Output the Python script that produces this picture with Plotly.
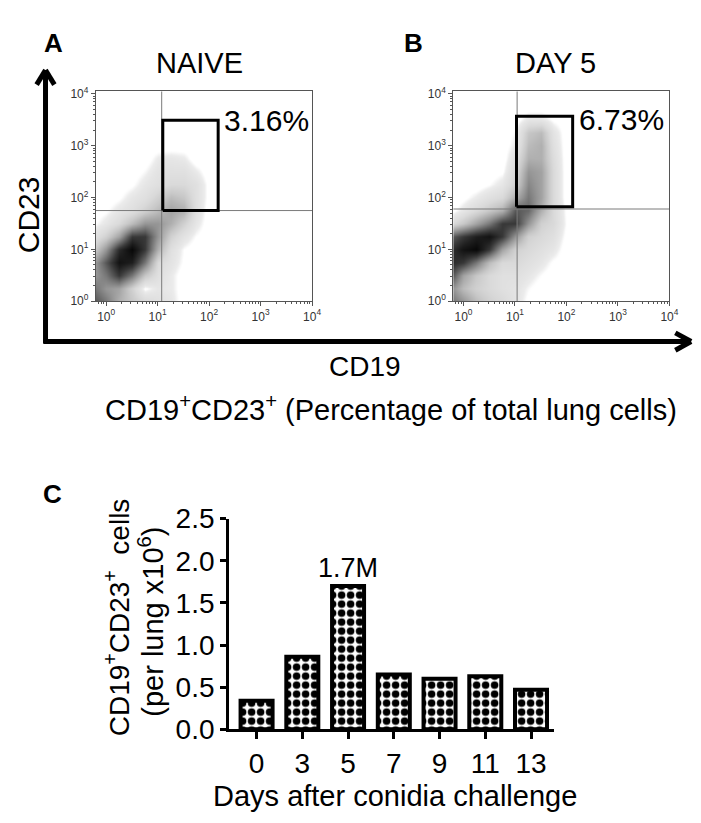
import plotly.graph_objects as go

W, H = 701, 823
FONT = "Arial, Liberation Sans, sans-serif"

# ---------------- Panel C data ----------------
days = ["0", "3", "5", "7", "9", "11", "13"]
cells_per_lung = [0.34, 0.86, 1.70, 0.65, 0.60, 0.63, 0.47]
bar_labels = ["", "", "1.7M", "", "", "", ""]
bar_y_ticks = [0.0, 0.5, 1.0, 1.5, 2.0, 2.5]
bar_y_tick_text = ["0.0", "0.5", "1.0", "1.5", "2.0", "2.5"]

# ---------------- Flow panels data ----------------
flow_decades = [1, 10, 100, 1000, 10000]
flow_tick_text = ["10<sup>0</sup>", "10<sup>1</sup>", "10<sup>2</sup>", "10<sup>3</sup>", "10<sup>4</sup>"]
flow_range_x = [-0.2, 4.0]      # log10 units
flow_range_y = [0.0, 4.05]

# density estimate grid (log10 units of CD19 / CD23)
grid_log_x = [-0.2, 0.0, 0.25, 0.5, 0.75, 1.0, 1.25, 1.5, 1.75, 2.0, 2.25]
grid_log_y = [0.0, 0.25, 0.5, 0.75, 1.0, 1.25, 1.5, 1.75, 2.0, 2.25, 2.5, 2.75, 3.0, 3.25, 3.5, 3.75]

density_naive = [
    [7, 6, 4, 3, 2, 1.5, 1, 0, 0, 0, 0],
    [6, 5, 4.5, 2.5, 0.3, 1, 0.8, 0, 0, 0, 0],
    [5, 6, 8, 6, 3, 1.5, 0.8, 0, 0, 0, 0],
    [5, 7, 9.5, 9, 6, 2, 1.2, 0.3, 0, 0, 0],
    [3, 5, 8.5, 10, 8, 4, 1.5, 0.4, 0, 0, 0],
    [1.5, 2.5, 4.5, 8, 8, 5, 2.5, 1.2, 0.4, 0, 0],
    [0.4, 1, 2, 3.5, 5, 5, 4, 2.5, 1, 0, 0],
    [0, 0.3, 1, 1.5, 2.5, 3.5, 4.5, 4, 1.5, 0, 0],
    [0, 0, 0.3, 1, 1.5, 2.5, 3.5, 3, 1.5, 0.2, 0],
    [0, 0, 0, 0.3, 1, 1.5, 2, 2, 1.5, 0.2, 0],
    [0, 0, 0, 0, 0.5, 1.2, 1.5, 1.5, 0.8, 0, 0],
    [0, 0, 0, 0, 0, 0.8, 1, 0.8, 0, 0, 0],
    [0, 0, 0, 0, 0, 0, 0, 0, 0, 0, 0],
    [0, 0, 0, 0, 0, 0, 0, 0, 0, 0, 0],
    [0, 0, 0, 0, 0, 0, 0, 0, 0, 0, 0],
    [0, 0, 0, 0, 0, 0, 0, 0, 0, 0, 0],
]

density_day5 = [
    [6, 5, 3.5, 2.5, 2, 1.2, 0.2, 0, 0, 0, 0],
    [5, 3.5, 2.5, 2, 1.5, 1.2, 0.5, 0, 0, 0, 0],
    [7, 4.5, 3, 2, 1.5, 1.5, 1, 0.4, 0, 0, 0],
    [8.5, 8, 6, 3.5, 2, 2, 1.5, 1, 0.3, 0, 0],
    [8.5, 9.5, 10, 8, 4.5, 2.5, 2, 1.5, 1, 0, 0],
    [7, 8, 9, 9.5, 8, 5, 2.5, 2, 1.5, 0.2, 0],
    [2, 3, 4.5, 6, 8, 8, 5, 2.5, 2, 0.4, 0],
    [0.2, 1, 2, 3, 4, 7, 6.5, 4, 2, 0.3, 0],
    [0, 0.2, 0.8, 1.5, 2, 4, 6, 4.5, 2, 0, 0],
    [0, 0, 0, 0.4, 1, 2.5, 5.5, 4.5, 2, 0, 0],
    [0, 0, 0, 0, 0.3, 2, 5, 4.5, 2, 0, 0],
    [0, 0, 0, 0, 0, 1.5, 4, 4, 1.8, 0, 0],
    [0, 0, 0, 0, 0, 0.8, 3.5, 4, 1.5, 0, 0],
    [0, 0, 0, 0, 0, 0.5, 3, 3.5, 1.2, 0, 0],
    [0, 0, 0, 0, 0, 0, 1, 1, 0.3, 0, 0],
    [0, 0, 0, 0, 0, 0, 0, 0, 0, 0, 0],
]

naive_quadrant = [12, 56]          # CD19, CD23 thresholds
naive_gate_x = [12.6, 150]
naive_gate_y = [56, 3100]
naive_pct = "3.16%"

day5_quadrant = [11, 60]
day5_gate_x = [10.7, 132]
day5_gate_y = [66, 3700]
day5_pct = "6.73%"


def px_x(p):
    return p / W


def px_y(p):
    return 1 - p / H


gray_scale = [
    [0.0, "#ffffff"], [0.04, "#ffffff"], [0.07, "#ececec"], [0.1, "#e6e6e6"],
    [0.2, "#dadada"], [0.3, "#c8c8c8"], [0.4, "#b0b0b0"], [0.5, "#969696"],
    [0.6, "#787878"], [0.7, "#585858"], [0.8, "#383838"], [0.9, "#1e1e1e"],
    [1.0, "#080808"],
]

fig = go.Figure()

panels = [
    ("x", "y", "x2", "y2", density_naive, naive_quadrant, naive_gate_x, naive_gate_y, (89, 308)),
    ("x3", "y3", "x4", "y4", density_day5, day5_quadrant, day5_gate_x, day5_gate_y, (451, 670)),
]

YTOP, YBOT = 71, 289
lo_x, hi_x = 10 ** flow_range_x[0], 10 ** flow_range_x[1]
lo_y, hi_y = 10 ** flow_range_y[0], 10 ** flow_range_y[1]

for hx, hy, lx, ly, dens, quad, gx, gy, dom in panels:
    fig.add_trace(go.Heatmap(
        x=grid_log_x, y=grid_log_y, z=dens, xaxis=hx, yaxis=hy,
        colorscale=gray_scale, zmin=0, zmax=10, zsmooth="best",
        showscale=False, hoverinfo="skip",
    ))
    fig.add_trace(go.Scatter(x=[quad[0], quad[0]], y=[lo_y, hi_y], mode="lines",
                             line=dict(color="#7a7a7a", width=1), xaxis=lx, yaxis=ly,
                             showlegend=False, hoverinfo="skip"))
    fig.add_trace(go.Scatter(x=[lo_x, hi_x], y=[quad[1], quad[1]], mode="lines",
                             line=dict(color="#7a7a7a", width=1), xaxis=lx, yaxis=ly,
                             showlegend=False, hoverinfo="skip"))
    fig.add_trace(go.Scatter(x=[gx[0], gx[1], gx[1], gx[0], gx[0]],
                             y=[gy[0], gy[0], gy[1], gy[1], gy[0]], mode="lines",
                             line=dict(color="black", width=3), xaxis=lx, yaxis=ly,
                             showlegend=False, hoverinfo="skip"))

    xdom = [px_x(dom[0]), px_x(dom[1])]
    ydom = [px_y(YBOT), px_y(YTOP)]
    hxk = "xaxis" + hx[1:]
    hyk = "yaxis" + hy[1:]
    lxk = "xaxis" + lx[1:]
    lyk = "yaxis" + ly[1:]
    fig.layout[hxk] = dict(domain=xdom, range=flow_range_x, visible=False, anchor=hy)
    fig.layout[hyk] = dict(domain=ydom, range=flow_range_y, visible=False, anchor=hx)
    common = dict(showline=True, linecolor="#555555", linewidth=1, mirror=True,
                  showgrid=False, zeroline=False, ticks="outside", ticklen=4,
                  tickwidth=1, tickcolor="#555555",
                  tickvals=flow_decades, ticktext=flow_tick_text,
                  tickfont=dict(family=FONT, size=12, color="#333333"),
                  minor=dict(ticks="outside", ticklen=2, tickwidth=1, tickcolor="#555555",
                             dtick="D1", showgrid=False))
    fig.layout[lxk] = dict(type="log", range=flow_range_x, overlaying=hx, anchor=ly, **common)
    fig.layout[lyk] = dict(type="log", range=flow_range_y, overlaying=hy, anchor=lx, **common)

# ---------------- Panel C bar chart ----------------
fig.add_trace(go.Bar(
    x=days, y=cells_per_lung, xaxis="x5", yaxis="y5", width=0.7,
    text=bar_labels, textposition="outside", cliponaxis=False, constraintext="none",
    textfont=dict(family=FONT, size=27, color="black"),
    marker=dict(color="white", line=dict(color="black", width=4),
                pattern=dict(shape=".", fgcolor="black", bgcolor="white", size=9,
                             solidity=0.55, fgopacity=1)),
    showlegend=False, hoverinfo="skip",
))

fig.update_layout(
    xaxis5=dict(domain=[px_x(224), px_x(553)], anchor="y5", type="category",
                range=[-0.6, 6.5], showline=True, linecolor="black", linewidth=3,
                ticks="outside", ticklen=7, tickwidth=2.5, tickcolor="black",
                showgrid=False, zeroline=False,
                tickfont=dict(family=FONT, size=28, color="black")),
    yaxis5=dict(domain=[px_y(734), px_y(515)], anchor="x5", range=[0, 2.5],
                showline=True, linecolor="black", linewidth=3,
                ticks="outside", ticklen=6, tickwidth=2.5, tickcolor="black",
                tickvals=bar_y_ticks, ticktext=bar_y_tick_text,
                showgrid=False, zeroline=False,
                tickfont=dict(family=FONT, size=28, color="black")),
)


def note(text, x, y, size, bold=False, angle=0):
    if bold:
        text = "<b>" + text + "</b>"
    fig.add_annotation(x=px_x(x), y=px_y(y), xref="paper", yref="paper", text=text,
                       showarrow=False, xanchor="center", yanchor="middle",
                       textangle=angle, font=dict(family=FONT, size=size, color="black"))


note("A", 46, 21, 26, bold=True)
note("B", 411, 21, 26, bold=True)
note("C", 45, 489, 26, bold=True)
note("NAIVE", 194, 42, 29)
note("DAY 5", 555, 42, 29)
note(naive_pct, 262, 101, 30)
note(day5_pct, 621, 100, 30)
note("CD23", 21, 199, 30, angle=-90)
note("CD19", 362, 357, 28)
note("CD19<sup>+</sup>CD23<sup>+</sup> (Percentage of total lung cells)", 388, 400, 29)
note("CD19<sup>+</sup>CD23<sup>+</sup>  cells", 110, 618, 28, angle=-90)
note("(per lung x10<sup>6</sup>)", 144, 622, 29, angle=-90)
note("Days after conidia challenge", 392, 803, 29)

# ---------------- big CD23 / CD19 arrows ----------------
arrow_line = dict(color="black", width=5)
shapes = [
    dict(type="line", xref="paper", yref="paper", x0=px_x(38), y0=px_y(333), x1=px_x(38), y1=px_y(49), line=arrow_line),
    dict(type="line", xref="paper", yref="paper", x0=px_x(29), y0=px_y(64), x1=px_x(38), y1=px_y(49), line=arrow_line),
    dict(type="line", xref="paper", yref="paper", x0=px_x(47), y0=px_y(64), x1=px_x(38), y1=px_y(49), line=arrow_line),
    dict(type="line", xref="paper", yref="paper", x0=px_x(36), y0=px_y(331), x1=px_x(691), y1=px_y(331), line=arrow_line),
    dict(type="line", xref="paper", yref="paper", x0=px_x(676), y0=px_y(322), x1=px_x(692), y1=px_y(331), line=arrow_line),
    dict(type="line", xref="paper", yref="paper", x0=px_x(676), y0=px_y(340), x1=px_x(692), y1=px_y(331), line=arrow_line),
]

fig.update_layout(
    width=W, height=H, margin=dict(l=0, r=0, t=0, b=0),
    paper_bgcolor="white", plot_bgcolor="white", showlegend=False,
    shapes=shapes, font=dict(family=FONT),
)

fig.write_html("out.html")
